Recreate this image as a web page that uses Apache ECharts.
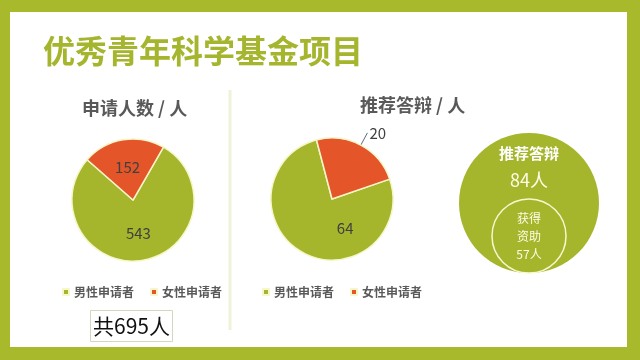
<!DOCTYPE html>
<html>
<head>
<meta charset="utf-8">
<script src="https://cdn.jsdelivr.net/npm/echarts@6/dist/echarts.min.js"></script>
<style>
html,body{margin:0;padding:0;background:#a8b92c;}
#chart{width:640px;height:360px;}
</style>
</head>
<body>
<div id="chart"></div>
<script>
// ---- data ----
const mainTitle = '优秀青年科学基金项目';
const applyTitle = '申请人数 / 人';
const defenseTitle = '推荐答辩 / 人';
const genders = ['男性申请者', '女性申请者'];
const applicants = [543, 152];
const defense = [64, 20];
const funnelNames = ['推荐答辩', '获得资助'];
const funnelValues = [84, 57];

const GREEN = '#a6b62c';
const RED = '#e4552a';
const FONT = "'Noto Sans CJK SC', 'Noto Sans', sans-serif";
const totalApplicants = applicants.reduce((a, b) => a + b, 0);

const chart = echarts.init(document.getElementById('chart'), null, {renderer: 'canvas'});

const sliceStyle = {borderColor: '#f6f6c8', borderWidth: 1.5};

chart.setOption({
  animation: false,
  textStyle: {fontFamily: FONT},
  color: [GREEN, RED],
  graphic: [
    {type: 'rect', z: -10, shape: {x: 10, y: 12, width: 617, height: 335}, style: {fill: '#ffffff'}, silent: true},
    {type: 'line', shape: {x1: 230, y1: 90, x2: 230, y2: 330}, style: {stroke: '#eff2d8', lineWidth: 3}, silent: true}
  ],
  title: [
    {text: mainTitle, left: 38, top: 30, textStyle: {fontFamily: FONT, fontSize: 32, fontWeight: 'bold', color: '#a5b52d'}},
    {text: applyTitle, left: 77, top: 94, textStyle: {fontFamily: FONT, fontSize: 18, fontWeight: 'bold', color: '#595959'}},
    {text: defenseTitle, left: 355, top: 91, textStyle: {fontFamily: FONT, fontSize: 18, fontWeight: 'bold', color: '#595959'}},
    {text: '共' + totalApplicants + '人', left: 90, top: 310, padding: [3, 3, 3, 3], borderColor: '#d6d6c0', borderWidth: 1,
     textStyle: {fontFamily: FONT, fontSize: 21, fontWeight: 'normal', color: '#111111', lineHeight: 26}}
  ],
  legend: [
    {left: 57, top: 281, icon: 'rect', itemWidth: 6, itemHeight: 6, itemGap: 16, selectedMode: false,
     data: genders, textStyle: {fontFamily: FONT, fontSize: 12, fontWeight: 'bold', color: '#5a5a5a'}},
    {left: 257, top: 281, icon: 'rect', itemWidth: 6, itemHeight: 6, itemGap: 16, selectedMode: false,
     data: genders, textStyle: {fontFamily: FONT, fontSize: 12, fontWeight: 'bold', color: '#5a5a5a'}}
  ],
  series: [
    {
      type: 'pie', center: [133, 200], radius: 61, startAngle: 60, clockwise: true,
      silent: true, itemStyle: sliceStyle,
      label: {position: 'inside', color: '#404040', fontSize: 15, fontFamily: FONT, formatter: '{c}'},
      labelLine: {show: false},
      data: [
        {name: genders[0], value: applicants[0]},
        {name: genders[1], value: applicants[1], label: {padding: [0, 0, 20, 0]}}
      ]
    },
    {
      type: 'pie', center: [332, 199], radius: 61, startAngle: 19, clockwise: true,
      silent: true, itemStyle: sliceStyle,
      label: {color: '#404040', fontSize: 15, fontFamily: FONT, formatter: '{c}'},
      data: [
        {name: genders[0], value: defense[0], label: {position: 'inside', padding: [0, 0, 0, 58]}, labelLine: {show: false}},
        {name: genders[1], value: defense[1], label: {position: 'outside', distanceToLabelLine: 2},
         labelLine: {show: true, length: 14, length2: 0, lineStyle: {color: '#5b6b82', width: 1}}}
      ]
    },
    {
      type: 'pie', center: [529, 203], radius: 70, silent: true,
      itemStyle: {color: GREEN},
      label: {position: 'center', formatter: '{t|{b}}\n{v|{c}人}', padding: [0, 0, 72, 0],
        rich: {
          t: {fontFamily: FONT, fontSize: 15, fontWeight: 'bold', color: '#ffffff', lineHeight: 27},
          v: {fontFamily: FONT, fontSize: 18, color: '#fffbe6', lineHeight: 27}
        }},
      labelLine: {show: false},
      data: [{name: funnelNames[0], value: funnelValues[0]}]
    },
    {
      type: 'pie', center: [529, 236], radius: 37, silent: true, z: 3,
      itemStyle: {color: 'rgba(0,0,0,0)', borderColor: '#f8f8d0', borderWidth: 1.5},
      label: {position: 'center', color: '#fffbe6', fontFamily: FONT, fontSize: 12, lineHeight: 18,
        formatter: function (p) { return p.name.slice(0, 2) + '\n' + p.name.slice(2) + '\n' + p.value + '人'; }},
      labelLine: {show: false},
      data: [{name: funnelNames[1], value: funnelValues[1]}]
    }
  ]
});
</script>
</body>
</html>
